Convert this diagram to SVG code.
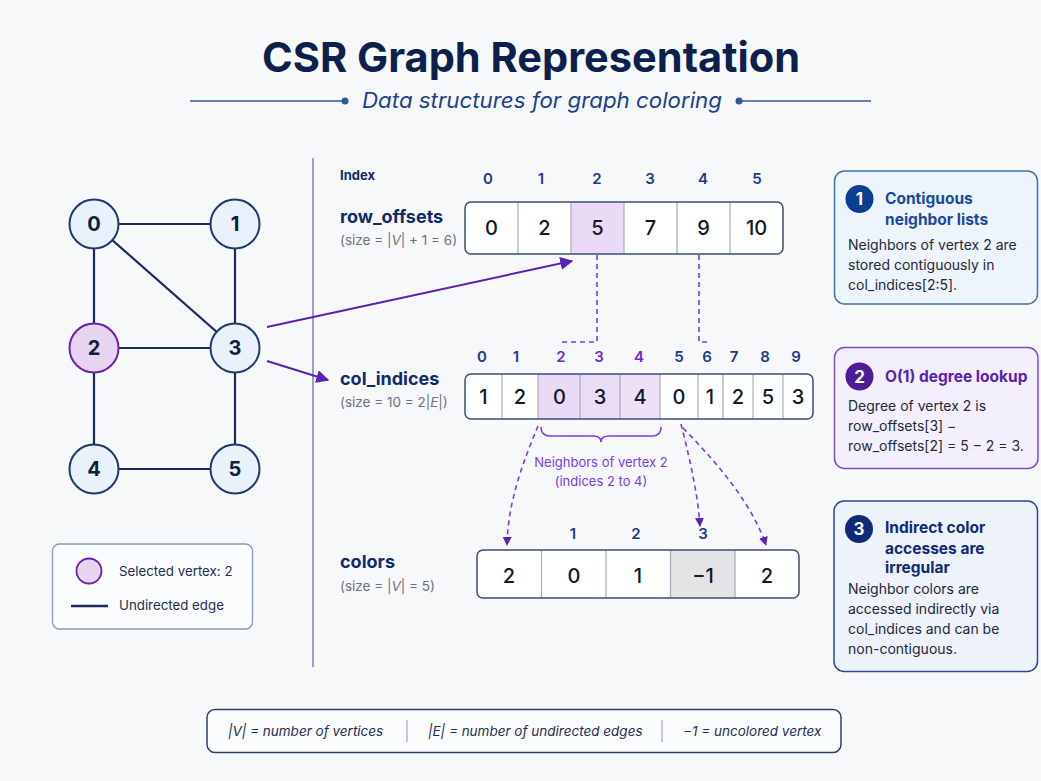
<svg xmlns="http://www.w3.org/2000/svg" width="1041" height="781" viewBox="0 0 1041 781">
  <defs>
    <marker id="arrowSolid" viewBox="0 0 10 10" refX="9" refY="5" markerWidth="9" markerHeight="9" markerUnits="userSpaceOnUse" orient="auto">
      <path d="M0,0 L10,5 L0,10 Z" fill="#5b21b6"/>
    </marker>
    <marker id="arrowBig" viewBox="0 0 10 10" refX="9" refY="5" markerWidth="13" markerHeight="13" markerUnits="userSpaceOnUse" orient="auto">
      <path d="M0,0 L10,5 L0,10 Z" fill="#5b21b6"/>
    </marker>
    <style>
      text { font-family: Inter, "Noto Sans", "Liberation Sans", sans-serif; }
      .title { font-size: 41px; font-weight: 700; fill: #0d1f4c; }
      .subtitle { font-size: 21px; font-style: italic; fill: #1d3f8f; }
      .edge { stroke: #1b2a5c; stroke-width: 2.2; }
      .vtx { fill: #e9f1fb; stroke: #1e3a70; stroke-width: 2; }
      .vtx-sel { fill: #e6d4f1; stroke: #6b21a8; stroke-width: 2; }
      .vlabel { font-size: 20px; font-weight: 700; fill: #0f1d40; text-anchor: middle; }
      .arr-name { font-size: 18px; font-weight: 700; fill: #0f2a6b; }
      .arr-size { font-size: 13.5px; fill: #6b7280; }
      .idx { font-size: 15px; font-weight: 600; fill: #1e3a8a; text-anchor: middle; }
      .idx-sel { fill: #6d28d9; }
      .cell-bg { fill: #ffffff; }
      .cell-box { fill: none; stroke: #3d4d74; stroke-width: 1.5; }
      .cell-hi { fill: #eadaf5; }
      .cell-gray { fill: #e4e4e6; }
      .sep { stroke: #a3abbb; stroke-width: 1.2; }
      .val { font-size: 20px; font-weight: 500; fill: #111827; text-anchor: middle; }
      .link { stroke: #5b21b6; stroke-width: 2; fill: none; }
      .dash { stroke: #7c3aed; stroke-width: 1.6; fill: none; stroke-dasharray: 5 4; }
      .note { font-size: 13px; fill: #7c3aed; text-anchor: middle; }
      .panel-body { font-size: 14px; fill: #1f2937; }
      .panel-head { font-size: 15.5px; font-weight: 700; }
      .badge-num { font-size: 17px; font-weight: 700; fill: #ffffff; text-anchor: middle; }
      .legend-text { font-size: 13.3px; fill: #1f2d4f; }
      .foot { font-size: 13.5px; font-style: italic; fill: #1f2d4f; }
    </style>
  </defs>

  <rect width="1041" height="781" fill="#f7f8fa"/>

  <!-- Title block -->
  <g id="title">
    <text class="title" x="531" y="72" text-anchor="middle" textLength="538" lengthAdjust="spacingAndGlyphs">CSR Graph Representation</text>
    <line x1="190" y1="101" x2="343" y2="101" stroke="#2c5aa0" stroke-width="1.5"/>
    <circle cx="345" cy="101" r="3.5" fill="#2c5aa0"/>
    <text class="subtitle" x="542" y="108" text-anchor="middle" textLength="360" lengthAdjust="spacingAndGlyphs">Data structures for graph coloring</text>
    <circle cx="739" cy="101" r="3.5" fill="#2c5aa0"/>
    <line x1="741" y1="101" x2="871" y2="101" stroke="#2c5aa0" stroke-width="1.5"/>
  </g>

  <!-- Divider between the graph and the arrays -->
  <line x1="313" y1="158" x2="313" y2="667" stroke="#8b7fd6" stroke-width="1.6"/>

  <!-- Graph edges and CSR connectors -->
  <g id="connectors">
    <line class="edge" x1="94" y1="224" x2="235" y2="224"/>
    <line class="edge" x1="94" y1="224" x2="94" y2="348"/>
    <line class="edge" x1="94" y1="224" x2="235" y2="348"/>
    <line class="edge" x1="235" y1="224" x2="235" y2="348"/>
    <line class="edge" x1="94" y1="348" x2="235" y2="348"/>
    <line class="edge" x1="94" y1="348" x2="94" y2="469"/>
    <line class="edge" x1="235" y1="348" x2="235" y2="469"/>
    <line class="edge" x1="94" y1="469" x2="235" y2="469"/>

    <!-- vertex 3 into row_offsets and col_indices -->
    <line class="link" x1="267" y1="327" x2="572" y2="261" marker-end="url(#arrowBig)"/>
    <line class="link" x1="267" y1="361" x2="328" y2="380" marker-end="url(#arrowBig)"/>

    <!-- row_offsets[2] and row_offsets[3] bounds into col_indices -->
    <path class="dash" d="M597,255 V342 H562 V346"/>
    <path class="dash" d="M699,255 V342 H707 V345"/>

    <!-- neighbor lookups into colors -->
    <path class="dash" d="M538,426 C524,460 508,500 507,545" marker-end="url(#arrowSolid)"/>
    <path class="dash" d="M681,424 C690,460 698,495 700,526" marker-end="url(#arrowSolid)"/>
    <path class="dash" d="M683,428 C722,468 752,505 766,545" marker-end="url(#arrowSolid)"/>

    <!-- brace under the neighbor slice -->
    <path d="M541,427 Q541,436 550,436 L593,436 Q601,436 601,442 Q601,436 609,436 L652,436 Q661,436 661,427" fill="none" stroke="#7c3aed" stroke-width="1.6"/>
  </g>

  <!-- Graph vertices -->
  <g id="vertex-0"><circle class="vtx" cx="94" cy="224" r="24.5"/><text class="vlabel" x="94" y="231">0</text></g>
  <g id="vertex-1"><circle class="vtx" cx="235" cy="224" r="24.5"/><text class="vlabel" x="235" y="231">1</text></g>
  <g id="vertex-2"><circle class="vtx-sel" cx="94" cy="348" r="24.5"/><text class="vlabel" x="94" y="355">2</text></g>
  <g id="vertex-3"><circle class="vtx" cx="235" cy="348" r="24.5"/><text class="vlabel" x="235" y="355">3</text></g>
  <g id="vertex-4"><circle class="vtx" cx="94" cy="469" r="24.5"/><text class="vlabel" x="94" y="476">4</text></g>
  <g id="vertex-5"><circle class="vtx" cx="235" cy="469" r="24.5"/><text class="vlabel" x="235" y="476">5</text></g>

  <!-- row_offsets array -->
  <g id="row-offsets">
    <text x="340" y="180" font-size="13" font-weight="700" fill="#0f2a6b">Index</text>
    <text class="idx" x="488" y="184">0</text>
    <text class="idx" x="541" y="184">1</text>
    <text class="idx" x="597" y="184">2</text>
    <text class="idx" x="650" y="184">3</text>
    <text class="idx" x="703" y="184">4</text>
    <text class="idx" x="757" y="184">5</text>
    <text class="arr-name" x="340" y="223">row_offsets</text>
    <text class="arr-size" x="340" y="245">(size = |<tspan font-style="italic">V</tspan>| + 1 = 6)</text>
    <rect class="cell-bg" x="465" y="202" width="318" height="52" rx="6"/>
    <rect class="cell-hi" x="571" y="202" width="53" height="52"/>
    <line class="sep" x1="518" y1="202" x2="518" y2="254"/>
    <line class="sep" x1="571" y1="202" x2="571" y2="254"/>
    <line class="sep" x1="624" y1="202" x2="624" y2="254"/>
    <line class="sep" x1="677" y1="202" x2="677" y2="254"/>
    <line class="sep" x1="730" y1="202" x2="730" y2="254"/>
    <rect class="cell-box" x="465" y="202" width="318" height="52" rx="6"/>
    <text class="val" x="491.5" y="235">0</text>
    <text class="val" x="544.5" y="235">2</text>
    <text class="val" x="597.5" y="235">5</text>
    <text class="val" x="650.5" y="235">7</text>
    <text class="val" x="703.5" y="235">9</text>
    <text class="val" x="756.5" y="235">10</text>
  </g>

  <!-- col_indices array -->
  <g id="col-indices">
    <text class="idx" x="482" y="362">0</text>
    <text class="idx" x="516" y="362">1</text>
    <text class="idx idx-sel" x="561" y="362">2</text>
    <text class="idx idx-sel" x="599" y="362">3</text>
    <text class="idx idx-sel" x="639" y="362">4</text>
    <text class="idx" x="679" y="362">5</text>
    <text class="idx" x="707" y="362">6</text>
    <text class="idx" x="734" y="362">7</text>
    <text class="idx" x="765" y="362">8</text>
    <text class="idx" x="796" y="362">9</text>
    <text class="arr-name" x="340" y="385">col_indices</text>
    <text class="arr-size" x="340" y="407">(size = 10 = 2|<tspan font-style="italic">E</tspan>|)</text>
    <rect class="cell-bg" x="465" y="374" width="348" height="45" rx="6"/>
    <rect class="cell-hi" x="538" y="374" width="42" height="45"/>
    <rect x="580" y="374" width="40" height="45" fill="#ebdcf6"/>
    <rect x="620" y="374" width="40" height="45" fill="#ede0f7"/>
    <line class="sep" x1="502" y1="374" x2="502" y2="419"/>
    <line class="sep" x1="538" y1="374" x2="538" y2="419"/>
    <line class="sep" x1="580" y1="374" x2="580" y2="419"/>
    <line class="sep" x1="620" y1="374" x2="620" y2="419"/>
    <line class="sep" x1="660" y1="374" x2="660" y2="419"/>
    <line class="sep" x1="698" y1="374" x2="698" y2="419"/>
    <line class="sep" x1="723" y1="374" x2="723" y2="419"/>
    <line class="sep" x1="753" y1="374" x2="753" y2="419"/>
    <line class="sep" x1="783" y1="374" x2="783" y2="419"/>
    <rect class="cell-box" x="465" y="374" width="348" height="45" rx="6"/>
    <text class="val" x="483.5" y="404">1</text>
    <text class="val" x="520" y="404">2</text>
    <text class="val" x="559.5" y="404">0</text>
    <text class="val" x="600" y="404">3</text>
    <text class="val" x="640" y="404">4</text>
    <text class="val" x="679" y="404">0</text>
    <text class="val" x="710" y="404">1</text>
    <text class="val" x="738" y="404">2</text>
    <text class="val" x="768" y="404">5</text>
    <text class="val" x="798" y="404">3</text>
    <text class="note" x="601" y="467">Neighbors of vertex 2</text>
    <text class="note" x="601" y="486">(indices 2 to 4)</text>
  </g>

  <!-- colors array -->
  <g id="colors">
    <text class="idx" x="573" y="539">1</text>
    <text class="idx" x="636" y="539">2</text>
    <text class="idx" x="703" y="539">3</text>
    <text class="arr-name" x="340" y="568">colors</text>
    <text class="arr-size" x="340" y="591">(size = |<tspan font-style="italic">V</tspan>| = 5)</text>
    <rect class="cell-bg" x="477" y="550" width="322" height="48" rx="6"/>
    <rect class="cell-gray" x="670.5" y="550" width="64.5" height="48"/>
    <line class="sep" x1="541.5" y1="550" x2="541.5" y2="598"/>
    <line class="sep" x1="606" y1="550" x2="606" y2="598"/>
    <line class="sep" x1="670.5" y1="550" x2="670.5" y2="598"/>
    <line class="sep" x1="735" y1="550" x2="735" y2="598"/>
    <rect class="cell-box" x="477" y="550" width="322" height="48" rx="6"/>
    <text class="val" x="509" y="583">2</text>
    <text class="val" x="574" y="583">0</text>
    <text class="val" x="638" y="583">1</text>
    <text class="val" x="703" y="583">−1</text>
    <text class="val" x="767" y="583">2</text>
  </g>

  <!-- Callout 1 -->
  <g id="callout-1">
    <rect x="834.5" y="171" width="203" height="133" rx="10" fill="#eef4fb" stroke="#3f6fb8" stroke-width="1.5"/>
    <circle cx="859.5" cy="199" r="14" fill="#0b3d91"/>
    <text class="badge-num" x="859.5" y="205">1</text>
    <text class="panel-head" x="885" y="203.5" fill="#174a9c">Contiguous</text>
    <text class="panel-head" x="885" y="224.5" fill="#174a9c">neighbor lists</text>
    <text class="panel-body" x="848" y="249.5">Neighbors of vertex 2 are</text>
    <text class="panel-body" x="848" y="269.5">stored contiguously in</text>
    <text class="panel-body" x="848" y="289.5">col_indices[2:5].</text>
  </g>

  <!-- Callout 2 -->
  <g id="callout-2">
    <rect x="834.5" y="347.5" width="203.5" height="121" rx="10" fill="#f4effc" stroke="#7c4dcc" stroke-width="1.5"/>
    <circle cx="859.5" cy="376.5" r="14" fill="#4c1d95"/>
    <text class="badge-num" x="859.5" y="382.5">2</text>
    <text class="panel-head" x="885" y="382" fill="#5b21b6">O(1) degree lookup</text>
    <text class="panel-body" x="848" y="411">Degree of vertex 2 is</text>
    <text class="panel-body" x="848" y="431">row_offsets[3] −</text>
    <text class="panel-body" x="848" y="451">row_offsets[2] = 5 − 2 = 3.</text>
  </g>

  <!-- Callout 3 -->
  <g id="callout-3">
    <rect x="834" y="501" width="203.5" height="170.5" rx="10" fill="#eef2fb" stroke="#2d4a9a" stroke-width="1.5"/>
    <circle cx="859" cy="529" r="14" fill="#0f2a78"/>
    <text class="badge-num" x="859" y="535">3</text>
    <text class="panel-head" x="885" y="533" fill="#0f2a78">Indirect color</text>
    <text class="panel-head" x="885" y="553.5" fill="#0f2a78">accesses are</text>
    <text class="panel-head" x="885" y="573" fill="#0f2a78">irregular</text>
    <text class="panel-body" x="848" y="594">Neighbor colors are</text>
    <text class="panel-body" x="848" y="614">accessed indirectly via</text>
    <text class="panel-body" x="848" y="634">col_indices and can be</text>
    <text class="panel-body" x="848" y="653.5">non-contiguous.</text>
  </g>

  <!-- Legend -->
  <g id="legend">
    <rect x="52.5" y="544" width="200" height="85" rx="7" fill="#fbfcfe" stroke="#8a9ab5" stroke-width="1.3"/>
    <circle cx="89" cy="571" r="12.5" fill="#e6d4f1" stroke="#6b21a8" stroke-width="1.8"/>
    <text class="legend-text" x="119" y="576">Selected vertex: 2</text>
    <line x1="71" y1="606" x2="108" y2="606" stroke="#1b2a5c" stroke-width="2.5"/>
    <text class="legend-text" x="119" y="610">Undirected edge</text>
  </g>

  <!-- Notation footer -->
  <g id="notation">
    <rect x="207" y="709.5" width="634" height="43" rx="8" fill="#fbfcfe" stroke="#2c3e6b" stroke-width="1.5"/>
    <text class="foot" x="228" y="736">|V| = number of vertices</text>
    <line x1="407" y1="720" x2="407" y2="742" stroke="#b0b8c8" stroke-width="1.5"/>
    <text class="foot" x="428" y="736">|E| = number of undirected edges</text>
    <line x1="662" y1="720" x2="662" y2="742" stroke="#b0b8c8" stroke-width="1.5"/>
    <text class="foot" x="683" y="736">−1 = uncolored vertex</text>
  </g>
</svg>
